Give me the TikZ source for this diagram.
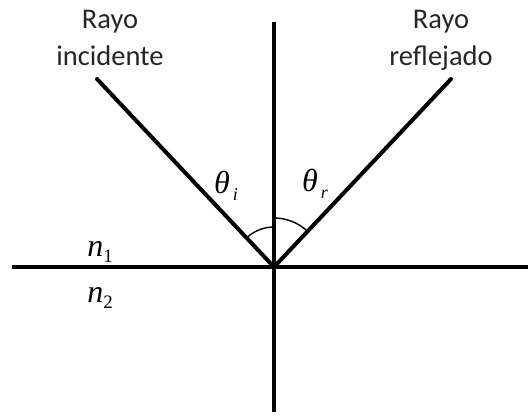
\documentclass[tikz,border=0pt]{standalone}
\usepackage{fontspec}
\setmainfont{Carlito}
\newfontfamily\serifit{Liberation Serif}
\begin{document}
\begin{tikzpicture}[x=1pt,y=-1pt,
  ray/.style={line width=4pt},
  anglearc/.style={line width=1.4pt},
  lbl/.style={font=\fontsize{28.5}{37}\selectfont, align=center, text=black!85, inner sep=0pt},
  sym/.style={font=\fontsize{32}{34}\selectfont\serifit\itshape, inner sep=0pt, anchor=base}]
\useasboundingbox (0,0) rectangle (528,416);
\coordinate (O) at (274,267);
\coordinate (top) at (274,22);
\coordinate (bot) at (274,412);
\coordinate (left) at (12,267);
\coordinate (right) at (528,267);
\coordinate (inc) at (97,79);
\coordinate (ref) at (451,79);
\draw[ray] (top) -- (bot);
\draw[ray] (left) -- (right);
\draw[ray, line cap=round] (inc) -- (O);
\draw[ray, line cap=round] (ref) -- (O);
\draw[anglearc] (O) ++(-133.3:40) arc[start angle=-133.3, end angle=-90, radius=40];
\draw[anglearc] (O) ++(-90:49) arc[start angle=-90, end angle=-46.7, radius=49];
\node[lbl, anchor=base] (t1) at (110,28) {Rayo};
\node[lbl, anchor=base] (t2) at (110,65) {incidente};
\node[lbl, anchor=base] (t3) at (441,28) {Rayo};
\node[lbl, anchor=base] (t4) at (441,65) {reflejado};
\node[sym] (thi) at (226,193) {θ\raisebox{-7pt}{\fontsize{18}{20}\selectfont\,i}};
\node[sym] (thr) at (315,191) {θ\raisebox{-7pt}{\fontsize{18}{20}\selectfont\,r}};
\node[sym] (n1) at (100,256) {n\raisebox{-6pt}{\fontsize{19}{20}\selectfont\upshape 1}};
\node[sym] (n2) at (100,302) {n\raisebox{-6pt}{\fontsize{19}{20}\selectfont\upshape 2}};
\end{tikzpicture}
\end{document}
